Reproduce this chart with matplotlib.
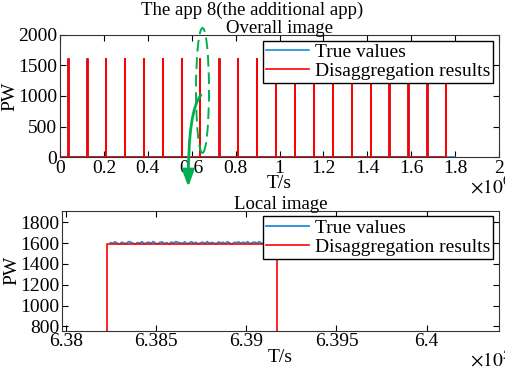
import numpy as np
import matplotlib.pyplot as plt
from matplotlib.patches import Ellipse, FancyArrowPatch
from matplotlib.path import Path
from matplotlib.ticker import FuncFormatter

plt.rcParams['font.family'] = ['Liberation Serif', 'DejaVu Serif']
plt.rcParams['mathtext.fontset'] = 'stix'
plt.rcParams['font.size'] = 14

# spike start times (s), each on for ~940 s
on_times = [37965, 124525, 209567, 296128, 382688, 469248, 554290, 638228,
            725893, 810934, 897494, 984055, 1070615, 1155657, 1242217,
            1328778, 1415338, 1500380, 1586940, 1673500, 1758542]
on_dur = 940
level = 1600
t_end_true = 1.80e6

# local image values
local_on = 638228
local_off = 639168
local_level = 1595
true_noise = [1603, 1596, 1611, 1598, 1589, 1607, 1600, 1592, 1613, 1609,
              1597, 1590, 1604, 1599, 1612, 1593, 1601, 1608, 1595, 1614,
              1598, 1591, 1606, 1610, 1594, 1604, 1588, 1609, 1599, 1613,
              1605, 1602, 1596, 1611, 1593, 1600, 1612, 1598, 1606, 1590,
              1601, 1608, 1595, 1613, 1597, 1605, 1599, 1592, 1610, 1601,
              1607, 1594, 1612, 1600, 1589, 1606, 1603, 1611, 1596, 1608,
              1598, 1613, 1591, 1604, 1609, 1597, 1612, 1600, 1594, 1607]

blue = '#1a8fd6'
red = '#ff0000'
green = '#00b050'


def step_series(starts, dur, val, t_last):
    t = [0]
    y = [0]
    for s in starts:
        t += [s, s, s + dur, s + dur]
        y += [0, val, val, 0]
    t.append(t_last)
    y.append(0)
    return t, y


def style(ax):
    ax.tick_params(direction='in', top=True, right=True, length=4, pad=2)
    for s in ax.spines.values():
        s.set_linewidth(0.8)
        s.set_color('#333333')


def fpt(x, y):
    # figure pixel (from top-left) -> figure fraction
    return (x / 505, 1 - y / 367)


leg_kw = dict(loc='upper right', fancybox=False, edgecolor='black',
              framealpha=1, borderaxespad=0.3, handlelength=2.2,
              handletextpad=0.3, borderpad=0.15, labelspacing=0.05,
              fontsize=14)

fig = plt.figure(figsize=(5.05, 3.67), dpi=100)

# ---- overall image
ax1 = fig.add_axes([0.119, 0.572, 0.869, 0.333])
tt, yt = step_series(on_times, on_dur, level + 10, t_end_true)
tr, yr = step_series(on_times, on_dur, level, on_times[-1] + on_dur)
ax1.plot(tt, yt, color=blue, lw=1.2, label='True values')
ax1.plot(tr, yr, color=red, lw=1.2, label='Disaggregation results')
ax1.set_xlim(0, 2e6)
ax1.set_ylim(0, 2000)
ax1.set_xticks(np.arange(0, 2.01e6, 0.2e6))
ax1.set_yticks([0, 500, 1000, 1500, 2000])
ax1.xaxis.set_major_formatter(FuncFormatter(lambda v, p: f'{v/1e6:g}'))
ax1.set_ylabel('PW', labelpad=0)
ax1.set_xlabel('T/s', labelpad=-1)
ax1.set_title('Overall image', pad=1, fontsize=13.5)
style(ax1)
ax1.legend(**leg_kw)

# ---- local image
ax2 = fig.add_axes([0.123, 0.099, 0.865, 0.327])
t_noise = np.linspace(local_on + 20, local_off - 60, len(true_noise))
ax2.plot(t_noise, true_noise, color=blue, lw=1.3, label='True values')
ax2.plot([634000, local_on, local_on, local_off, local_off, 645000],
         [0, 0, local_level, local_level, 0, 0],
         color=red, lw=1.2, label='Disaggregation results')
ax2.set_xlim(637980, 640400)
ax2.set_ylim(760, 1910)
ax2.set_xticks([638000, 638500, 639000, 639500, 640000])
ax2.set_yticks(np.arange(800, 1801, 200))
ax2.xaxis.set_major_formatter(FuncFormatter(lambda v, p: f'{v/1e5:g}'))
ax2.set_ylabel('PW', labelpad=0)
ax2.set_xlabel('T/s', labelpad=-1)
ax2.set_title('Local image', pad=1, fontsize=13.5)
style(ax2)
ax2.legend(**leg_kw)

fig.text(0.5, 1 - 10 / 367, 'The app 8(the additional app)', ha='center',
         va='center', fontsize=13.5)
fig.text(470 / 505, 1 - 186 / 367, r'$\times10^{6}$', ha='left',
         va='center', fontsize=14)
fig.text(470 / 505, 1 - 360 / 367, r'$\times10^{5}$', ha='left',
         va='center', fontsize=14)

# green zoom markers
ell = Ellipse(fpt(202.5, 90.5), 13 / 505, 125 / 367,
              transform=fig.transFigure, fill=False, edgecolor=green,
              lw=1.4, ls=(0, (6, 3)))
fig.add_artist(ell)
arrow_path = Path([fpt(201, 95), fpt(188, 110), fpt(188.3, 187)],
                  [Path.MOVETO, Path.CURVE3, Path.CURVE3])
arrow_path = fig.transFigure.transform_path(arrow_path)
arr = FancyArrowPatch(path=arrow_path, transform=None,
                      arrowstyle='-|>,head_length=10,head_width=3.6',
                      color=green, lw=2, shrinkA=0, shrinkB=0)
fig.add_artist(arr)

fig.savefig('out.png', dpi=100)
